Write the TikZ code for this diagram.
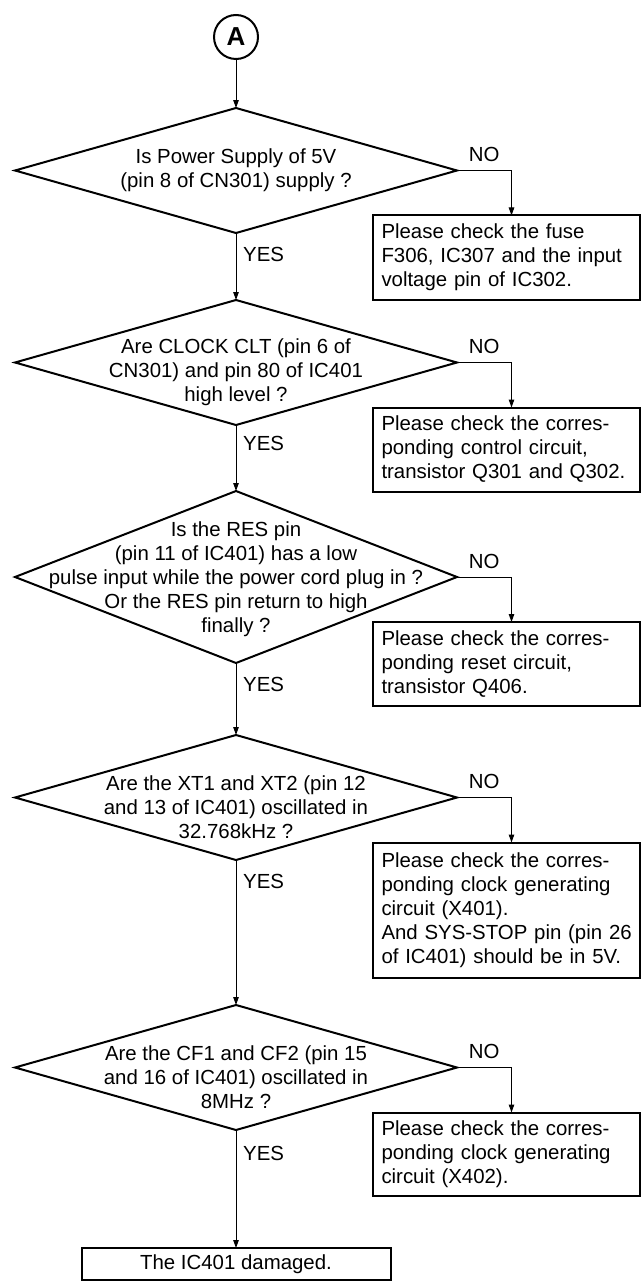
\documentclass[tikz,border=0pt]{standalone}
\usepackage{fontspec}
\setmainfont{Liberation Sans}
\usepackage{tikz}
\usetikzlibrary{positioning,shapes.geometric,arrows.meta}

\begin{document}
\begin{tikzpicture}[x=1pt, y=1pt, >={Triangle[length=8pt,width=5.5pt]},
  every node/.style={font=\fontsize{20.4}{24}\selectfont}]
\tikzstyle{decision}=[diamond, draw, line width=2pt, minimum width=442pt, minimum height=125pt, inner sep=0pt, outer sep=0pt]
\tikzstyle{qtext}=[align=center, inner sep=0pt]
\tikzstyle{check}=[rectangle, draw, line width=2pt, align=left, text width=250pt, inner xsep=8.5pt, inner ysep=0pt, outer sep=0pt, minimum height=84pt]
\tikzstyle{lbl}=[inner sep=0pt]
\useasboundingbox (0,0) rectangle (643,-1281);

\node[circle, draw, line width=2pt, minimum size=44pt, inner sep=0pt, outer sep=0pt, font=\bfseries\fontsize{26}{26}\selectfont] (start) at (236,-37) {A};

% questions
\node[decision, below=49pt of start] (q1) {};
\node[decision, below=67pt of q1] (q2) {};
\node[decision, below=66pt of q2, minimum height=172pt] (q3) {};
\node[decision, below=72pt of q3] (q4) {};
\node[decision, below=145pt of q4] (q5) {};
\node[rectangle, draw, line width=2pt, minimum width=309pt, minimum height=32pt, inner sep=0pt, outer sep=0pt, below=118pt of q5] (dead) {The IC401 damaged.};

\node[qtext] (t1) at (q1) {Is Power Supply of 5V\\(pin 8 of CN301) supply ?};
\node[qtext, yshift=-10pt] (t2) at (q2) {Are CLOCK CLT (pin 6 of\\CN301) and pin 80 of IC401\\high level ?};
\node[qtext, yshift=-2pt] (t3) at (q3) {Is the RES pin\\(pin 11 of IC401) has a low\\pulse input while the power cord plug in ?\\Or the RES pin return to high\\finally ?};
\node[qtext, yshift=-10pt] (t4) at (q4) {Are the XT1 and XT2 (pin 12\\and 13 of IC401) oscillated in\\32.768kHz ?};
\node[qtext, yshift=-10pt] (t5) at (q5) {Are the CF1 and CF2 (pin 15\\and 16 of IC401) oscillated in\\8MHz ?};

% checks on NO
\node[check, below right=45pt and -84pt of q1.east] (c1) {Please check the fuse\\F306, IC307 and the input\\voltage pin of IC302.};
\node[check, below right=45pt and -84pt of q2.east] (c2) {Please check the corres-\\ponding control circuit,\\transistor Q301 and Q302.};
\node[check, below right=45pt and -84pt of q3.east] (c3) {Please check the corres-\\ponding reset circuit,\\transistor Q406.};
\node[check, below right=45pt and -84pt of q4.east, minimum height=135pt] (c4) {Please check the corres-\\ponding clock generating\\circuit (X401).\\\mbox{And SYS-STOP pin (pin 26}\\of IC401) should be in 5V.};
\node[check, below right=45pt and -84pt of q5.east, minimum height=83pt] (c5) {Please check the corres-\\ponding clock generating\\circuit (X402).};

\draw[->, line width=1pt] (start) -- (q1);
\draw[->, line width=1pt] (q1) -- (q2);
\draw[->, line width=1pt] (q2) -- (q3);
\draw[->, line width=1pt] (q3) -- (q4);
\draw[->, line width=1pt] (q4) -- (q5);
\draw[->, line width=1pt] (q5) -- (dead);

\draw[->, line width=1pt] (q1.east) -| node[lbl, pos=0.25, above=8pt] (n1) {NO} ([xshift=5pt]c1.north);
\draw[->, line width=1pt] (q2.east) -| node[lbl, pos=0.25, above=8pt] (n2) {NO} ([xshift=5pt]c2.north);
\draw[->, line width=1pt] (q3.east) -| node[lbl, pos=0.25, above=8pt] (n3) {NO} ([xshift=5pt]c3.north);
\draw[->, line width=1pt] (q4.east) -| node[lbl, pos=0.25, above=8pt] (n4) {NO} ([xshift=5pt]c4.north);
\draw[->, line width=1pt] (q5.east) -| node[lbl, pos=0.25, above=8pt] (n5) {NO} ([xshift=5pt]c5.north);

\node[lbl, anchor=west] (y1) at ([shift={(7pt,-21pt)}]q1.south) {YES};
\node[lbl, anchor=west] (y2) at ([shift={(7pt,-18pt)}]q2.south) {YES};
\node[lbl, anchor=west] (y3) at ([shift={(7pt,-21pt)}]q3.south) {YES};
\node[lbl, anchor=west] (y4) at ([shift={(7pt,-21pt)}]q4.south) {YES};
\node[lbl, anchor=west] (y5) at ([shift={(7pt,-23pt)}]q5.south) {YES};
\end{tikzpicture}
\end{document}
